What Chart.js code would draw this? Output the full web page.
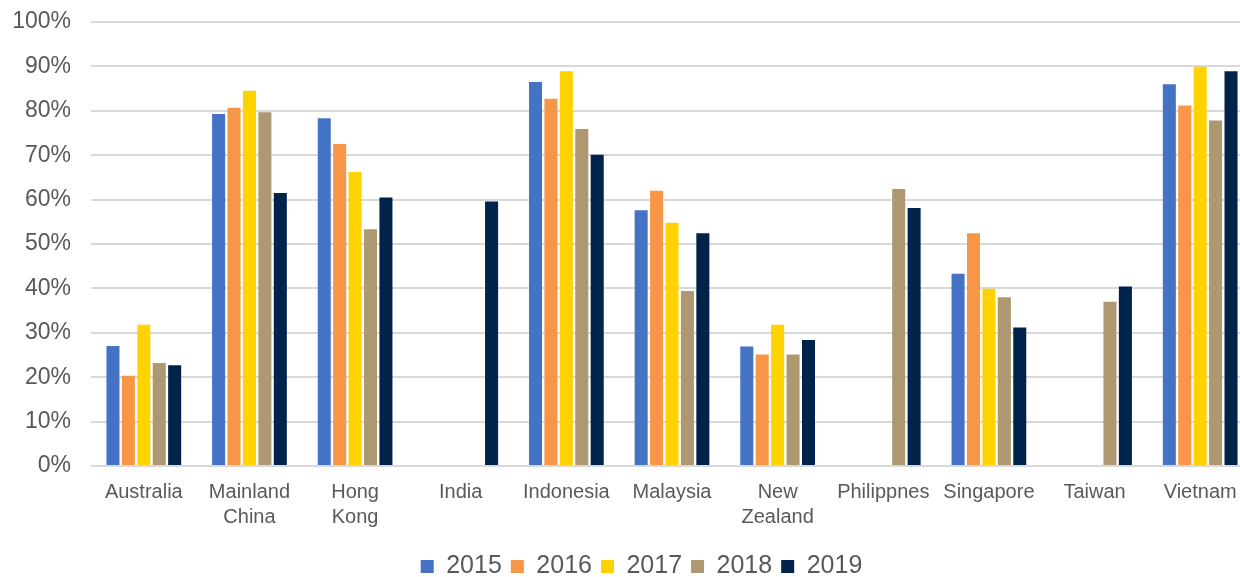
<!DOCTYPE html>
<html>
<head>
<meta charset="utf-8">
<script src="https://cdn.jsdelivr.net/npm/chart.js@4"></script>
<style>
  html, body { margin: 0; padding: 0; background: #fff; overflow: hidden; }
  canvas { display: block; }
</style>
</head>
<body>
<canvas id="chart" width="1253" height="577"></canvas>
<script>
const categories = ['Australia', ['Mainland', 'China'], ['Hong', 'Kong'], 'India', 'Indonesia', 'Malaysia',
  ['New', 'Zealand'], 'Philippnes', 'Singapore', 'Taiwan', 'Vietnam'];
const years = ['2015', '2016', '2017', '2018', '2019'];

const v2015 = [27.0, 79.3, 78.3, null, 86.5, 57.6, 26.9, null, 43.3, null, 86.0];
const v2016 = [20.3, 80.7, 72.5, null, 82.7, 62.0, 25.1, null, 52.4, null, 81.2];
const v2017 = [31.8, 84.5, 66.2, null, 88.9, 54.8, 31.8, null, 39.9, null, 89.9];
const v2018 = [23.2, 79.7, 53.3, null, 75.9, 39.4, 25.1, 62.4, 38.0, 37.0, 77.8];
const v2019 = [22.7, 61.5, 60.5, 59.6, 70.1, 52.4, 28.4, 58.1, 31.2, 40.4, 88.9];

const colors = ['#4472C4', '#F79646', '#FFD200', '#AD9872', '#00234B'];
const values = [v2015, v2016, v2017, v2018, v2019];

const textColor = '#595959';
const fontFamily = '"Liberation Sans", Arial, sans-serif';

// shrink the legend box so it sits near the bottom edge, and nudge it right like the original
const legendFit = {
  id: 'legendFit',
  beforeInit(chart) {
    const orig = chart.legend.fit;
    chart.legend.fit = function () {
      orig.call(this);
      this.height = 32;
    };
  },
  afterLayout(chart) {
    chart.legend.left += 15;
    chart.legend.right += 15;
  }
};

new Chart(document.getElementById('chart'), {
  type: 'bar',
  data: {
    labels: categories,
    datasets: years.map((y, i) => ({
      label: y,
      data: values[i],
      backgroundColor: colors[i],
      borderWidth: 0,
      categoryPercentage: 0.73,
      barPercentage: 0.845
    }))
  },
  options: {
    responsive: false,
    animation: false,
    devicePixelRatio: 1,
    layout: { padding: 0 },
    scales: {
      x: {
        grid: { display: false, drawTicks: false },
        border: { display: false },
        ticks: {
          color: textColor,
          font: { family: fontFamily, size: 20, lineHeight: 1.25 },
          padding: 14,
          maxRotation: 0,
          autoSkip: false
        },
        afterFit(scale) { scale.height = 79; }
      },
      y: {
        min: 0,
        max: 100,
        grid: { color: '#D9D9D9', lineWidth: 2, drawTicks: false },
        border: { display: false },
        ticks: {
          stepSize: 10,
          color: textColor,
          font: { family: fontFamily, size: 23 },
          padding: 20,
          callback: v => v + '%'
        },
        afterFit(scale) {
          scale.width = 91;
          scale.paddingTop = 22;
          scale.paddingBottom = 0;
        }
      }
    },
    plugins: {
      legend: {
        position: 'bottom',
        labels: {
          color: textColor,
          font: { family: fontFamily, size: 25 },
          boxWidth: 13,
          boxHeight: 13,
          padding: 9
        }
      },
      tooltip: { enabled: false }
    }
  },
  plugins: [legendFit]
});
</script>
</body>
</html>
